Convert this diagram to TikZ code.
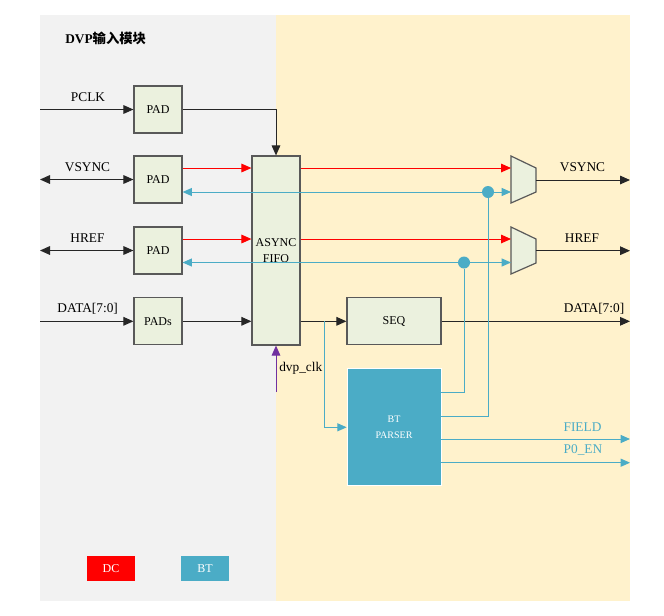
\documentclass[tikz,border=0pt]{standalone}
\usepackage{fontspec}
\setmainfont{Liberation Serif}
\newfontfamily\cjk{Noto Sans CJK SC}
\usetikzlibrary{arrows.meta,positioning,calc}
\definecolor{panelgray}{HTML}{F2F2F2}
\definecolor{panelyellow}{HTML}{FFF2CC}
\definecolor{boxfill}{HTML}{EBF1DE}
\definecolor{boxline}{HTML}{595959}
\definecolor{btblue}{HTML}{4BACC6}
\definecolor{dcred}{HTML}{FF0000}
\definecolor{clkpurple}{HTML}{7030A0}

\begin{document}
\begin{tikzpicture}[x=0.75pt, y=-0.75pt,
  blk/.style={draw=boxline, fill=boxfill, line width=0.9pt, inner sep=0pt, align=center, font=\fontsize{9}{12}\selectfont},
  lbl/.style={inner sep=0pt, font=\fontsize{10}{12}\selectfont},
  arr/.style={line width=0.75pt, draw=black!85, -{Triangle[length=7.5pt,width=6.5pt]}},
  dbl/.style={line width=0.75pt, draw=black!85, {Triangle[length=7.5pt,width=6.5pt]}-{Triangle[length=7.5pt,width=6.5pt]}},
  dcarr/.style={line width=0.75pt, draw=dcred, -{Triangle[length=7.5pt,width=6.5pt]}},
  btarr/.style={line width=0.75pt, draw=btblue, -{Triangle[length=7pt,width=6pt]}},
  btwire/.style={line width=0.75pt, draw=btblue},
  clkarr/.style={line width=0.75pt, draw=clkpurple, -{Triangle[length=7.5pt,width=6.5pt]}},
  dot/.style={circle, fill=btblue, inner sep=0pt, minimum size=9pt},
  mux/.style={draw=boxline, fill=boxfill, line width=0.9pt},
  key/.style={minimum width=36pt, minimum height=18.5pt, inner sep=0pt, text=white, font=\fontsize{9}{10}\selectfont}]
  \useasboundingbox (0,0) rectangle (664,615);
  \fill[panelgray] (40,15) rectangle (276,601);
  \fill[panelyellow] (276,15) rectangle (630,601);
  \node[anchor=west, inner sep=0pt, font=\bfseries\fontsize{10}{12}\selectfont] (title) at (65,38) {DVP{\cjk 输入模块}};

  \node[blk, minimum width=36pt, minimum height=35.25pt] (pclkpad) at (158,109.5) {PAD};
  \node[blk, minimum width=36pt, minimum height=35.25pt] (vspad) at (158,179.5) {PAD};
  \node[blk, minimum width=36pt, minimum height=35.25pt] (hrefpad) at (158,250.5) {PAD};
  \node[blk, minimum width=36pt, minimum height=35.25pt] (datapad) at (158,321.3) {PADs};
  \node[blk, minimum width=36pt, minimum height=141.75pt] (fifo) at (276,250.5) {ASYNC\\FIFO};
  \node[blk, minimum width=70.5pt, minimum height=35.25pt] (seq) at (394,321.3) {SEQ};
  \node[blk, draw=white, line width=0.5pt, fill=btblue, text=white, minimum width=70.5pt, minimum height=87.75pt, font=\fontsize{7.5}{11.5}\selectfont] (btp) at (394,427.3) {BT\\PARSER};
  \draw[mux] (511,156) -- (536,168) -- (536,192) -- (511,203) -- cycle;
  \draw[mux] (511,227) -- (536,239) -- (536,263) -- (511,274) -- cycle;

  \node[lbl] (pclklbl) at (88,97.3) {PCLK};
  \node[lbl] (vslbl) at (87.5,166.7) {VSYNC};
  \node[lbl] (hreflbl) at (87.5,238.3) {HREF};
  \node[lbl] (datalbl) at (87.7,309) {DATA[7:0]};
  \node[lbl] (vsolbl) at (582.5,166.7) {VSYNC};
  \node[lbl] (hrefolbl) at (582,238.3) {HREF};
  \node[lbl] (dataolbl) at (594,309) {DATA[7:0]};
  \node[lbl, anchor=west] (clklbl) at (279,368) {dvp\_clk};
  \node[lbl, text=btblue] (fieldlbl) at (582.5,427) {FIELD};
  \node[lbl, text=btblue] (p0lbl) at (583,450) {P0\_EN};

  \coordinate (pclkin) at (40,109.5);
  \coordinate (vsin) at (40,179.5);
  \coordinate (hrefin) at (40,250.5);
  \coordinate (datain) at (40,321.3);
  \coordinate (vsred) at (511,168);
  \coordinate (vsblue) at (511,192);
  \coordinate (hrefred) at (511,239);
  \coordinate (hrefblue) at (511,262.5);
  \coordinate (vsmuxo) at (536,180);
  \coordinate (hrefmuxo) at (536,250.7);
  \coordinate (vsout) at (630,180);
  \coordinate (hrefout) at (630,250.7);
  \coordinate (dataout) at (630,321.3);
  \coordinate (tap) at (324,321.3);
  \coordinate (clkin) at (276,392);
  \coordinate (vsback) at (441,416);
  \coordinate (hrefback) at (441,392);
  \coordinate (fieldout) at (630,439);
  \coordinate (p0out) at (630,462.7);

  \draw[arr] (pclkin) -- (pclkpad.west);
  \draw[arr] (pclkpad.east) -| (fifo.north);
  \draw[dbl] (vsin) -- (vspad.west);
  \draw[dbl] (hrefin) -- (hrefpad.west);
  \draw[arr] (datain) -- (datapad.west);
  \draw[arr] (datapad.east) -- (fifo.west |- datapad.east);
  \draw[arr] (fifo.east |- seq.west) -- (seq.west);
  \draw[arr] (seq.east) -- (dataout);
  \draw[arr] (vsmuxo) -- (vsout);
  \draw[arr] (hrefmuxo) -- (hrefout);
  \draw[clkarr] (clkin) -- (fifo.south);

  \draw[dcarr] (vspad.east |- vsred) -- (fifo.west |- vsred);
  \draw[dcarr] (fifo.east |- vsred) -- (vsred);
  \draw[dcarr] (hrefpad.east |- hrefred) -- (fifo.west |- hrefred);
  \draw[dcarr] (fifo.east |- hrefred) -- (hrefred);

  \node[dot] (vsdot) at (488,192) {};
  \node[dot] (hrefdot) at (464,262.5) {};
  \draw[btarr] (vsdot) -- (vspad.east |- vsdot);
  \draw[btarr] (vsdot) -- (vsblue);
  \draw[btarr] (hrefdot) -- (hrefpad.east |- hrefdot);
  \draw[btarr] (hrefdot) -- (hrefblue);
  \draw[btwire] (vsback) -| (vsdot);
  \draw[btwire] (hrefback) -| (hrefdot);
  \draw[btarr] (tap) |- (btp.west);
  \draw[btarr] (btp.east |- fieldout) -- (fieldout);
  \draw[btarr] (btp.east |- p0out) -- (p0out);

  \node[key, fill=dcred] (dckey) at (111,568.3) {DC};
  \node[key, fill=btblue] (btkey) at (205,568.3) {BT};
\end{tikzpicture}
\end{document}
